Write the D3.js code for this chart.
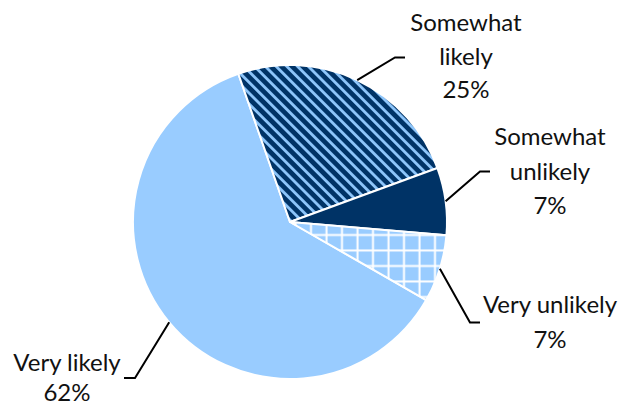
<!DOCTYPE html>
<html>
<head>
<meta charset="utf-8">
<script src="https://cdn.jsdelivr.net/npm/d3@7/dist/d3.min.js"></script>
<style>
  body { margin: 0; background: #fff; }
  svg text { font-family: Lato, "Liberation Sans", sans-serif; fill: #111; }
</style>
</head>
<body>
<svg width="625" height="406"></svg>
<script>
// data
var categories = ["Very likely", "Somewhat likely", "Somewhat unlikely", "Very unlikely"];
var values = [62, 25, 7, 7];
var labelLines = [["Very likely", "62%"], ["Somewhat", "likely", "25%"], ["Somewhat", "unlikely", "7%"], ["Very unlikely", "7%"]];

// layout for the labels: text centre x, first baseline y, line step, elbow of the leader line
var labelPos = [
    { x: 67, y: 371, dy: 30, ex: 135, ey: 378, hx: 124 },
    { x: 466, y: 31, dy: 33.5, ex: 395, ey: 57.5, hx: 405 },
    { x: 550, y: 145, dy: 34.5, ex: 480, ey: 171.5, hx: 490 },
    { x: 550, y: 313, dy: 34.5, ex: 470, ey: 322.5, hx: 480 }
];
var fills = ["#99CCFF", "url(#stripes)", "#003366", "url(#grid)"];

var svg = d3.select("svg"),
    width = +svg.attr("width"),
    height = +svg.attr("height");

var cx = 290, cy = 222, radius = 157;

// patterns
var defs = svg.append("defs");
var stripes = defs.append("pattern")
    .attr("id", "stripes")
    .attr("patternUnits", "userSpaceOnUse")
    .attr("width", 7.6)
    .attr("height", 20)
    .attr("patternTransform", "rotate(-45)");
stripes.append("rect").attr("width", 7.6).attr("height", 20).attr("fill", "#003366");
stripes.append("rect").attr("x", 0).attr("width", 2.8).attr("height", 20).attr("fill", "#8ec6fb");

var grid = defs.append("pattern")
    .attr("id", "grid")
    .attr("patternUnits", "userSpaceOnUse")
    .attr("width", 15.5)
    .attr("height", 15.5);
grid.append("rect").attr("width", 15.5).attr("height", 15.5).attr("fill", "#99CCFF");
grid.append("rect").attr("x", 4.5).attr("y", 0).attr("width", 2).attr("height", 15.5).attr("fill", "#fff");
grid.append("rect").attr("x", 0).attr("y", 12).attr("width", 15.5).attr("height", 2).attr("fill", "#fff");

var start = 119.8 * Math.PI / 180;
var pie = d3.pie()
    .sort(null)
    .startAngle(start)
    .endAngle(start + 2 * Math.PI);

var arc = d3.arc().innerRadius(0).outerRadius(radius);
var edge = d3.arc().innerRadius(radius).outerRadius(radius);

var arcs = pie(values);

var g = svg.append("g").attr("transform", "translate(" + cx + "," + cy + ")");

g.selectAll("path.slice")
    .data(arcs)
    .enter().append("path")
    .attr("class", "slice")
    .attr("d", arc)
    .attr("fill", (d, i) => fills[i])
    .attr("stroke", "#fff")
    .attr("stroke-width", 2)
    .attr("stroke-linejoin", "round");

// leader lines
svg.selectAll("path.leader")
    .data(arcs)
    .enter().append("path")
    .attr("class", "leader")
    .attr("fill", "none")
    .attr("stroke", "#000")
    .attr("stroke-width", 2)
    .attr("d", function (d, i) {
        var c = edge.centroid(d);
        var p = labelPos[i];
        return "M" + (cx + c[0]) + "," + (cy + c[1]) + "L" + p.ex + "," + p.ey + "L" + p.hx + "," + p.ey;
    });

// labels
labelLines.forEach(function (lines, i) {
    var t = svg.append("text")
        .attr("text-anchor", "middle")
        .attr("font-size", 24);
    lines.forEach(function (s, j) {
        t.append("tspan")
            .attr("x", labelPos[i].x)
            .attr("y", labelPos[i].y + j * labelPos[i].dy)
            .text(s);
    });
});
</script>
</body>
</html>
